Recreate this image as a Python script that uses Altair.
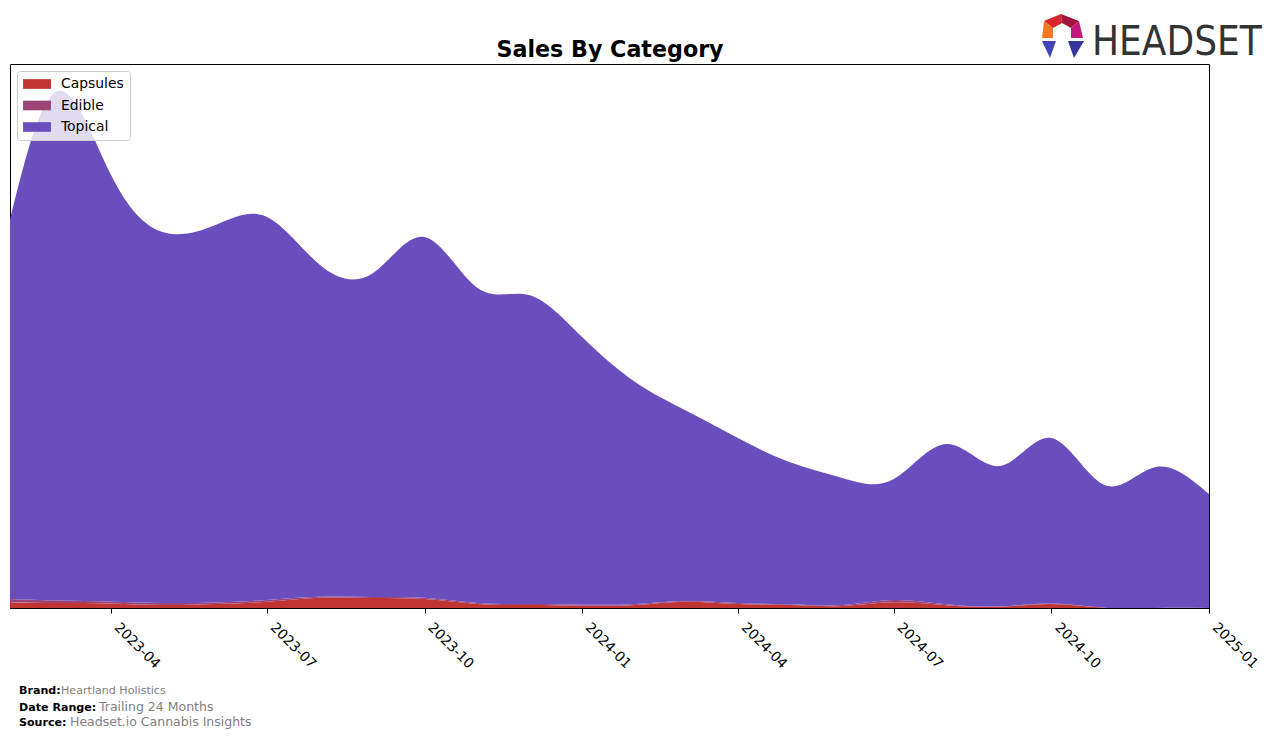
import altair as alt
import pandas as pd

# ---------------- data ----------------
months = [
    "2023-02-01", "2023-03-01", "2023-04-01", "2023-05-01", "2023-06-01", "2023-07-01",
    "2023-08-01", "2023-09-01", "2023-10-01", "2023-11-01", "2023-12-01", "2024-01-01",
    "2024-02-01", "2024-03-01", "2024-04-01", "2024-05-01", "2024-06-01", "2024-07-01",
    "2024-08-01", "2024-09-01", "2024-10-01", "2024-11-01", "2024-12-01", "2025-01-01",
]
categories = ["Capsules", "Edible", "Topical"]
capsules = [550, 500, 460, 300, 400, 630, 1030, 1000, 900, 400, 300, 230,
            300, 630, 400, 300, 200, 570, 270, 130, 400, 30, 0, 0]
edible = [350, 250, 170, 200, 150, 170, 100, 100, 130, 100, 100, 100,
          100, 70, 100, 70, 100, 230, 100, 40, 50, 0, 0, 0]
topical = [37900, 50950, 42670, 37100, 37750, 38300, 33170, 32400, 36070, 31500, 30900, 26770,
           22200, 19100, 16500, 14230, 12700, 12100, 16030, 14030, 16550, 12270, 14100, 11400]
tick_dates = [(2023, 4), (2023, 7), (2023, 10), (2024, 1), (2024, 4), (2024, 7), (2024, 10), (2025, 1)]
colors = ["#C13434", "#9B4479", "#6A4EBE"]

title_text = "Sales By Category"
brand_label, brand_value = "Brand:", "Heartland Holistics"
range_label, range_value = "Date Range:", "Trailing 24 Months"
source_label, source_value = "Source:", "Headset.io Cannabis Insights"
logo_text = "HEADSET"

rows = []
for i, m in enumerate(months):
    for k, (cat, vals) in enumerate(zip(categories, [capsules, edible, topical])):
        rows.append({"month": m, "category": cat, "sales": vals[i], "stack": k})
df = pd.DataFrame(rows)

FONT = "DejaVu Sans"

# ---------------- main area ----------------
legend_symbol = "M-0.99,-0.69H2.99V0.69H-0.99Z"

area = alt.Chart(df).mark_area(interpolate="natural", clip=True, opacity=1).encode(
    x=alt.X(
        "month:T",
        title=None,
        scale=alt.Scale(
            type="utc",
            domain=[alt.DateTime(year=2023, month=2, date=1, utc=True),
                    alt.DateTime(year=2025, month=1, date=1, utc=True)],
        ),
        axis=alt.Axis(
            values=[alt.DateTime(year=y, month=mo, date=1, utc=True) for y, mo in tick_dates],
            format="%Y-%m",
            labelAngle=45,
            labelAlign="left",
            labelBaseline="top",
            labelFont=FONT,
            labelFontSize=13.9,
            labelColor="black",
            labelPadding=7,
            labelOffset=10,
            tickColor="black",
            tickSize=5,
            tickWidth=1,
            domainColor="black",
            grid=False,
            labelOverlap=False,
        ),
    ),
    y=alt.Y("sales:Q", stack="zero", axis=None,
            scale=alt.Scale(domain=[0, 54400], nice=False, zero=True)),
    color=alt.Color(
        "category:N",
        scale=alt.Scale(domain=categories, range=colors),
        legend=alt.Legend(
            title=None,
            orient="none",
            legendX=7,
            legendY=7,
            symbolType=legend_symbol,
            symbolSize=196,
            symbolStrokeWidth=0,
            symbolOpacity=1,
            labelFont=FONT,
            labelFontSize=13.9,
            labelColor="black",
            labelOffset=24,
            padding=6,
            rowPadding=7.5,
            fillColor="rgba(255,255,255,0.8)",
            strokeColor="#cccccc",
            cornerRadius=3,
        ),
    ),
    order=alt.Order("stack:Q", sort="ascending"),
)

# ---------------- texts ----------------
def text_layer(txt, x, y, size, color="black", weight="normal", align="left", font=FONT):
    return alt.Chart(pd.DataFrame({"t": [txt]})).mark_text(
        align=align, baseline="alphabetic", font=font, fontSize=size,
        fontWeight=weight, color=color,
    ).encode(text="t:N", x=alt.value(x), y=alt.value(y))

title = text_layer(title_text, 600, -7, 22.2, weight="bold", align="center")
f1 = text_layer(brand_label, 9, 630, 11.1, weight="bold")
f2 = text_layer(brand_value, 51, 630, 11.1, color="#808080")
f3 = text_layer(range_label, 9, 647, 11.1, weight="bold")
f4 = text_layer(range_value, 89, 647, 12.5, color="#808080")
f5 = text_layer(source_label, 9, 662, 11.1, weight="bold")
f6 = text_layer(source_value, 60, 662, 12.5, color="#808080")
logo = text_layer(logo_text, 1082, -9, 40, color="#333333",
                  font="Liberation Sans Narrow, Arial Narrow, DejaVu Sans Condensed, sans-serif")

# ---------------- logo icon ----------------
cx, cy, r = 1063, 36, 22
pieces = [
    ([(1061, 14), (1044, 21), (1053, 28), (1062, 23)], "#D9262E"),
    ([(1061, 14), (1079, 21), (1071, 28), (1062, 23)], "#A3173E"),
    ([(1044, 21), (1042, 38), (1053, 38), (1053, 28)], "#F47B24"),
    ([(1079, 21), (1083, 38), (1071, 38), (1071, 28)], "#C2177D"),
    ([(1042, 41), (1056, 41), (1050, 58)], "#4346B5"),
    ([(1068, 41), (1084, 41), (1074, 58)], "#34359A"),
]
icon_layers = []
for pts, col in pieces:
    path = "M" + "L".join(f"{(px - cx) / r:.3f},{(py - cy) / r:.3f}" for px, py in pts) + "Z"
    icon_layers.append(
        alt.Chart(pd.DataFrame({"p": [0]})).mark_point(
            shape=path, filled=True, color=col, size=(2 * r) ** 2, opacity=1, strokeWidth=0
        ).encode(x=alt.value(cx - 10), y=alt.value(cy - 64))
    )

chart = alt.layer(area, title, f1, f2, f3, f4, f5, f6, logo, *icon_layers).properties(
    width=1199,
    height=544,
    autosize=alt.AutoSizeParams(type="none"),
    padding={"left": 10, "top": 64, "right": 67, "bottom": 130},
    background="white",
).configure_view(stroke="black", strokeWidth=1)

chart.save("out.html", embed_options={"renderer": "svg", "actions": False})
